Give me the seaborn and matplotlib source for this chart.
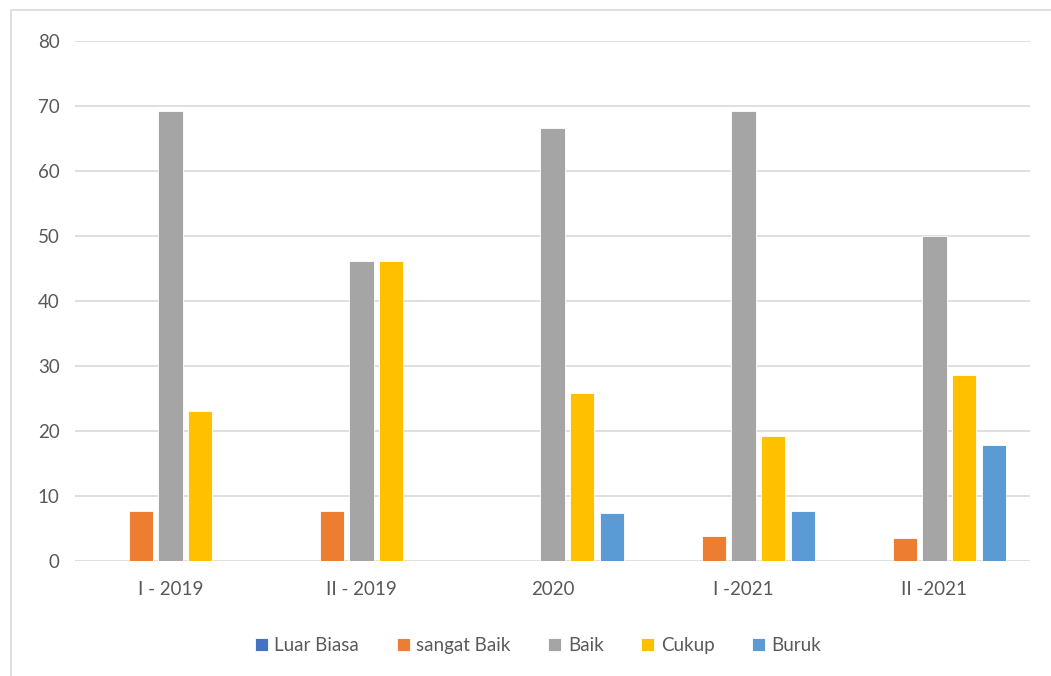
#%% imports
import pandas as pd
import seaborn as sns
import matplotlib.pyplot as plt
from matplotlib.patches import Rectangle

#%% data (percentages)
periods = ['I - 2019', 'II - 2019', '2020', 'I -2021', 'II -2021']
luar_biasa = [0, 0, 0, 0, 0]
sangat_baik = [7.69, 7.69, 0, 3.85, 3.57]
baik = [69.23, 46.15, 66.67, 69.23, 50.0]
cukup = [23.08, 46.15, 25.93, 19.23, 28.57]
buruk = [0, 0, 7.41, 7.69, 17.86]

cats = ['Luar Biasa', 'sangat Baik', 'Baik', 'Cukup', 'Buruk']
colors = ['#4472C4', '#ED7D31', '#A5A5A5', '#FFC000', '#5B9BD5']

rows = []
for name, vals in zip(cats, [luar_biasa, sangat_baik, baik, cukup, buruk]):
    for p, v in zip(periods, vals):
        rows.append({'periode': p, 'kategori': name, 'nilai': v})
df = pd.DataFrame(rows)

#%% plot
sns.set_style('white')
plt.rcParams['font.family'] = ['Lato', 'DejaVu Sans']

fig = plt.figure(figsize=(10.51, 6.76), dpi=100)
ax = fig.add_axes([0.0714, 0.170, 0.9086, 0.7693])

sns.barplot(data=df, x='periode', y='nilai', hue='kategori', order=periods,
            hue_order=cats, palette=colors, width=0.775, gap=0.18,
            edgecolor='white', linewidth=0.6, saturation=1, ax=ax, legend=True)

ax.set_ylim(0, 80)
ax.set_yticks(range(0, 81, 10))
ax.set_xlim(-0.5, 4.5)
ax.yaxis.grid(True, color='#d9d9d9', lw=1.2)
ax.set_axisbelow(True)
for s in ax.spines.values():
    s.set_visible(False)
ax.tick_params(axis='both', length=0, labelsize=13.5, colors='#595959')
ax.tick_params(axis='y', pad=11)
ax.tick_params(axis='x', pad=14)
ax.set_xlabel('')
ax.set_ylabel('')

handles, labels = ax.get_legend_handles_labels()
ax.get_legend().remove()
fig.legend(handles, labels, loc='center', bbox_to_anchor=(0.512, 0.045), ncol=5,
           frameon=False, fontsize=13.5, handlelength=0.7, handleheight=0.7,
           handletextpad=0.35, columnspacing=2.0, labelcolor='#595959')

# chart area border
fig.patches.append(Rectangle((11/1051, -0.01), 1.02, 1 - 10/676 + 0.01,
                             transform=fig.transFigure, fill=False,
                             edgecolor='#d9d9d9', lw=1.2))

plt.savefig('out.png', dpi=100)
